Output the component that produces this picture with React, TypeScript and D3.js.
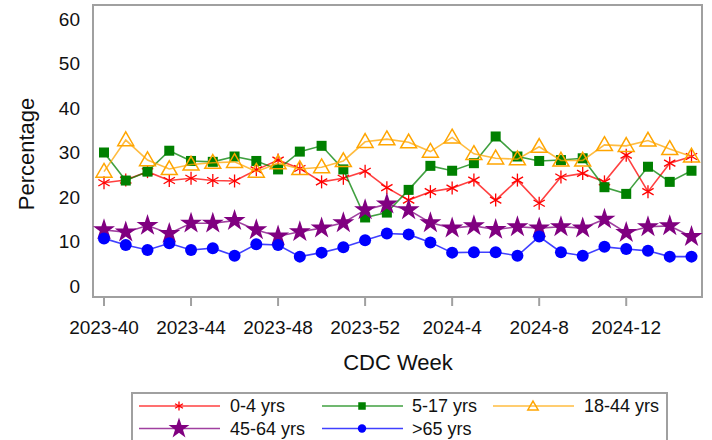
import * as d3 from "d3";

// CDC weeks shown on the x axis
const weeks = [
  "2023-40", "2023-41", "2023-42", "2023-43", "2023-44", "2023-45", "2023-46",
  "2023-47", "2023-48", "2023-49", "2023-50", "2023-51", "2023-52", "2024-1",
  "2024-2", "2024-3", "2024-4", "2024-5", "2024-6", "2024-7", "2024-8",
  "2024-9", "2024-10", "2024-11", "2024-12", "2024-13", "2024-14", "2024-15",
];
const tickWeeks = ["2023-40", "2023-44", "2023-48", "2023-52", "2024-4", "2024-8", "2024-12"];
const yTicks = [0, 10, 20, 30, 40, 50, 60];

const age0to4 = [23.2, 23.8, 25.7, 23.7, 24.2, 23.7, 23.6, 26.1, 28.3, 26.4, 23.4, 24.2, 25.8, 22.1, 19.3, 21.2, 22.0, 23.8, 19.3, 23.8, 18.6, 24.5, 25.3, 23.4, 29.4, 21.2, 27.6, 29.1];
const age5to17 = [30.0, 23.7, 25.7, 30.4, 28.1, 27.9, 29.1, 28.1, 26.2, 30.2, 31.5, 26.2, 15.4, 16.5, 21.6, 27.0, 25.9, 27.6, 33.6, 29.1, 28.1, 28.3, 28.7, 22.2, 20.7, 26.8, 23.4, 25.9];
const age18to44 = [25.7, 32.8, 28.3, 26.3, 27.3, 27.7, 27.9, 25.7, 27.6, 26.3, 26.7, 28.1, 32.4, 33.0, 32.3, 30.2, 33.4, 29.7, 28.7, 28.5, 31.3, 28.2, 28.2, 31.7, 31.5, 32.7, 30.8, 29.1];
const age45to64 = [12.6, 12.1, 13.6, 11.8, 14.1, 14.1, 14.7, 12.6, 11.2, 12.2, 13.0, 14.2, 17.1, 18.4, 17.1, 14.2, 13.0, 13.5, 12.7, 13.3, 13.0, 13.3, 13.0, 15.0, 12.0, 13.3, 13.5, 11.1];
const age65plus = [10.7, 9.2, 8.1, 9.6, 8.1, 8.5, 6.8, 9.4, 9.2, 6.6, 7.5, 8.7, 10.3, 11.8, 11.6, 9.8, 7.5, 7.6, 7.6, 6.8, 11.1, 7.6, 6.8, 8.8, 8.3, 7.9, 6.6, 6.6];

const series = [
  { name: "0-4 yrs", values: age0to4, color: "#ff0000", marker: "asterisk" },
  { name: "5-17 yrs", values: age5to17, color: "#008000", marker: "square" },
  { name: "18-44 yrs", values: age18to44, color: "#ffa500", marker: "triangle" },
  { name: "45-64 yrs", values: age45to64, color: "#800080", marker: "star" },
  { name: ">65 yrs", values: age65plus, color: "#0000ff", marker: "circle" },
];

const font = "Arial, 'Liberation Sans', sans-serif";

// legend markers are drawn smaller, except the star which keeps its size
const legendScale: Record<string, number> = {
  asterisk: 0.7,
  square: 0.75,
  triangle: 0.65,
  star: 0.95,
  circle: 0.7,
};

function Marker({ type, color, x, y, k = 1 }: { type: string; color: string; x: number; y: number; k?: number }) {
  if (type === "asterisk") {
    const r = 6.5 * k;
    return (
      <g transform={`translate(${x},${y})`} stroke={color} strokeWidth={1.3} fill="none">
        <line x1={0} y1={-r} x2={0} y2={r} />
        <line x1={-r * 0.87} y1={-r * 0.5} x2={r * 0.87} y2={r * 0.5} />
        <line x1={-r * 0.87} y1={r * 0.5} x2={r * 0.87} y2={-r * 0.5} />
      </g>
    );
  }
  if (type === "square") {
    const s = 10 * k;
    return <rect x={x - s / 2} y={y - s / 2} width={s} height={s} fill={color} />;
  }
  if (type === "triangle") {
    const p = d3.symbol(d3.symbolTriangle, 110 * k * k)();
    return <path d={p || ""} transform={`translate(${x},${y + 1})`} fill="none" stroke={color} strokeWidth={1.5} />;
  }
  if (type === "star") {
    const p = d3.symbol(d3.symbolStar, 150 * k * k)();
    return <path d={p || ""} transform={`translate(${x},${y})`} fill={color} />;
  }
  return <circle cx={x} cy={y} r={6 * k} fill={color} />;
}

export default function App() {
  const width = 712;
  const height = 440;
  const frame = { left: 93, right: 702, top: 5, bottom: 297 };

  const x = d3.scalePoint<string>().domain(weeks).range([104, 691.5]);
  const y = d3.scaleLinear().domain([0, 60]).range([286, 19]);

  const line = d3
    .line<number>()
    .x((_, i) => x(weeks[i]) as number)
    .y((d) => y(d));

  const legendItems = [
    { s: series[0], lx: 139, tx: 230, ly: 406 },
    { s: series[1], lx: 322, tx: 412, ly: 406 },
    { s: series[2], lx: 493, tx: 584, ly: 406 },
    { s: series[3], lx: 139, tx: 230, ly: 428.5 },
    { s: series[4], lx: 322, tx: 412, ly: 428.5 },
  ];

  return (
    <svg
      width={width}
      height={height}
      style={{ position: "absolute", left: 0, top: 0, background: "#fff" }}
      fontFamily={font}
    >
      <rect
        x={frame.left}
        y={frame.top}
        width={frame.right - frame.left}
        height={frame.bottom - frame.top}
        fill="none"
        stroke="#a0a0a0"
        strokeWidth={2}
      />

      {yTicks.map((t) => (
        <text key={t} x={80} y={y(t)} dy="0.35em" textAnchor="end" fontSize={19} fill="#111">
          {t}
        </text>
      ))}

      {tickWeeks.map((w) => (
        <g key={w}>
          <line x1={x(w)} x2={x(w)} y1={frame.bottom} y2={frame.bottom + 9} stroke="#a0a0a0" strokeWidth={2} />
          <text x={x(w)} y={327} dy="0.35em" textAnchor="middle" fontSize={19} fill="#111">
            {w}
          </text>
        </g>
      ))}

      <text x={398} y={362} dy="0.35em" textAnchor="middle" fontSize={22} fill="#111">
        CDC Week
      </text>
      <text
        transform="translate(26,154) rotate(-90)"
        dy="0.35em"
        textAnchor="middle"
        fontSize={22}
        fill="#111"
      >
        Percentage
      </text>

      {series.map((s) => (
        <g key={s.name}>
          <path d={line(s.values) || ""} fill="none" stroke={s.color} strokeWidth={1.6} strokeOpacity={0.75} />
          {s.values.map((v, i) => (
            <Marker key={i} type={s.marker} color={s.color} x={x(weeks[i]) as number} y={y(v)} />
          ))}
        </g>
      ))}

      <rect x={132} y={393} width={535} height={52} fill="#fff" stroke="#a0a0a0" strokeWidth={2} />
      {legendItems.map(({ s, lx, tx, ly }) => (
        <g key={s.name}>
          <line x1={lx} x2={lx + 81} y1={ly} y2={ly} stroke={s.color} strokeWidth={1.6} strokeOpacity={0.75} />
          <Marker type={s.marker} color={s.color} x={lx + 40} y={ly} k={legendScale[s.marker]} />
          <text x={tx} y={ly} dy="0.35em" fontSize={18} fill="#111">
            {s.name}
          </text>
        </g>
      ))}
    </svg>
  );
}
